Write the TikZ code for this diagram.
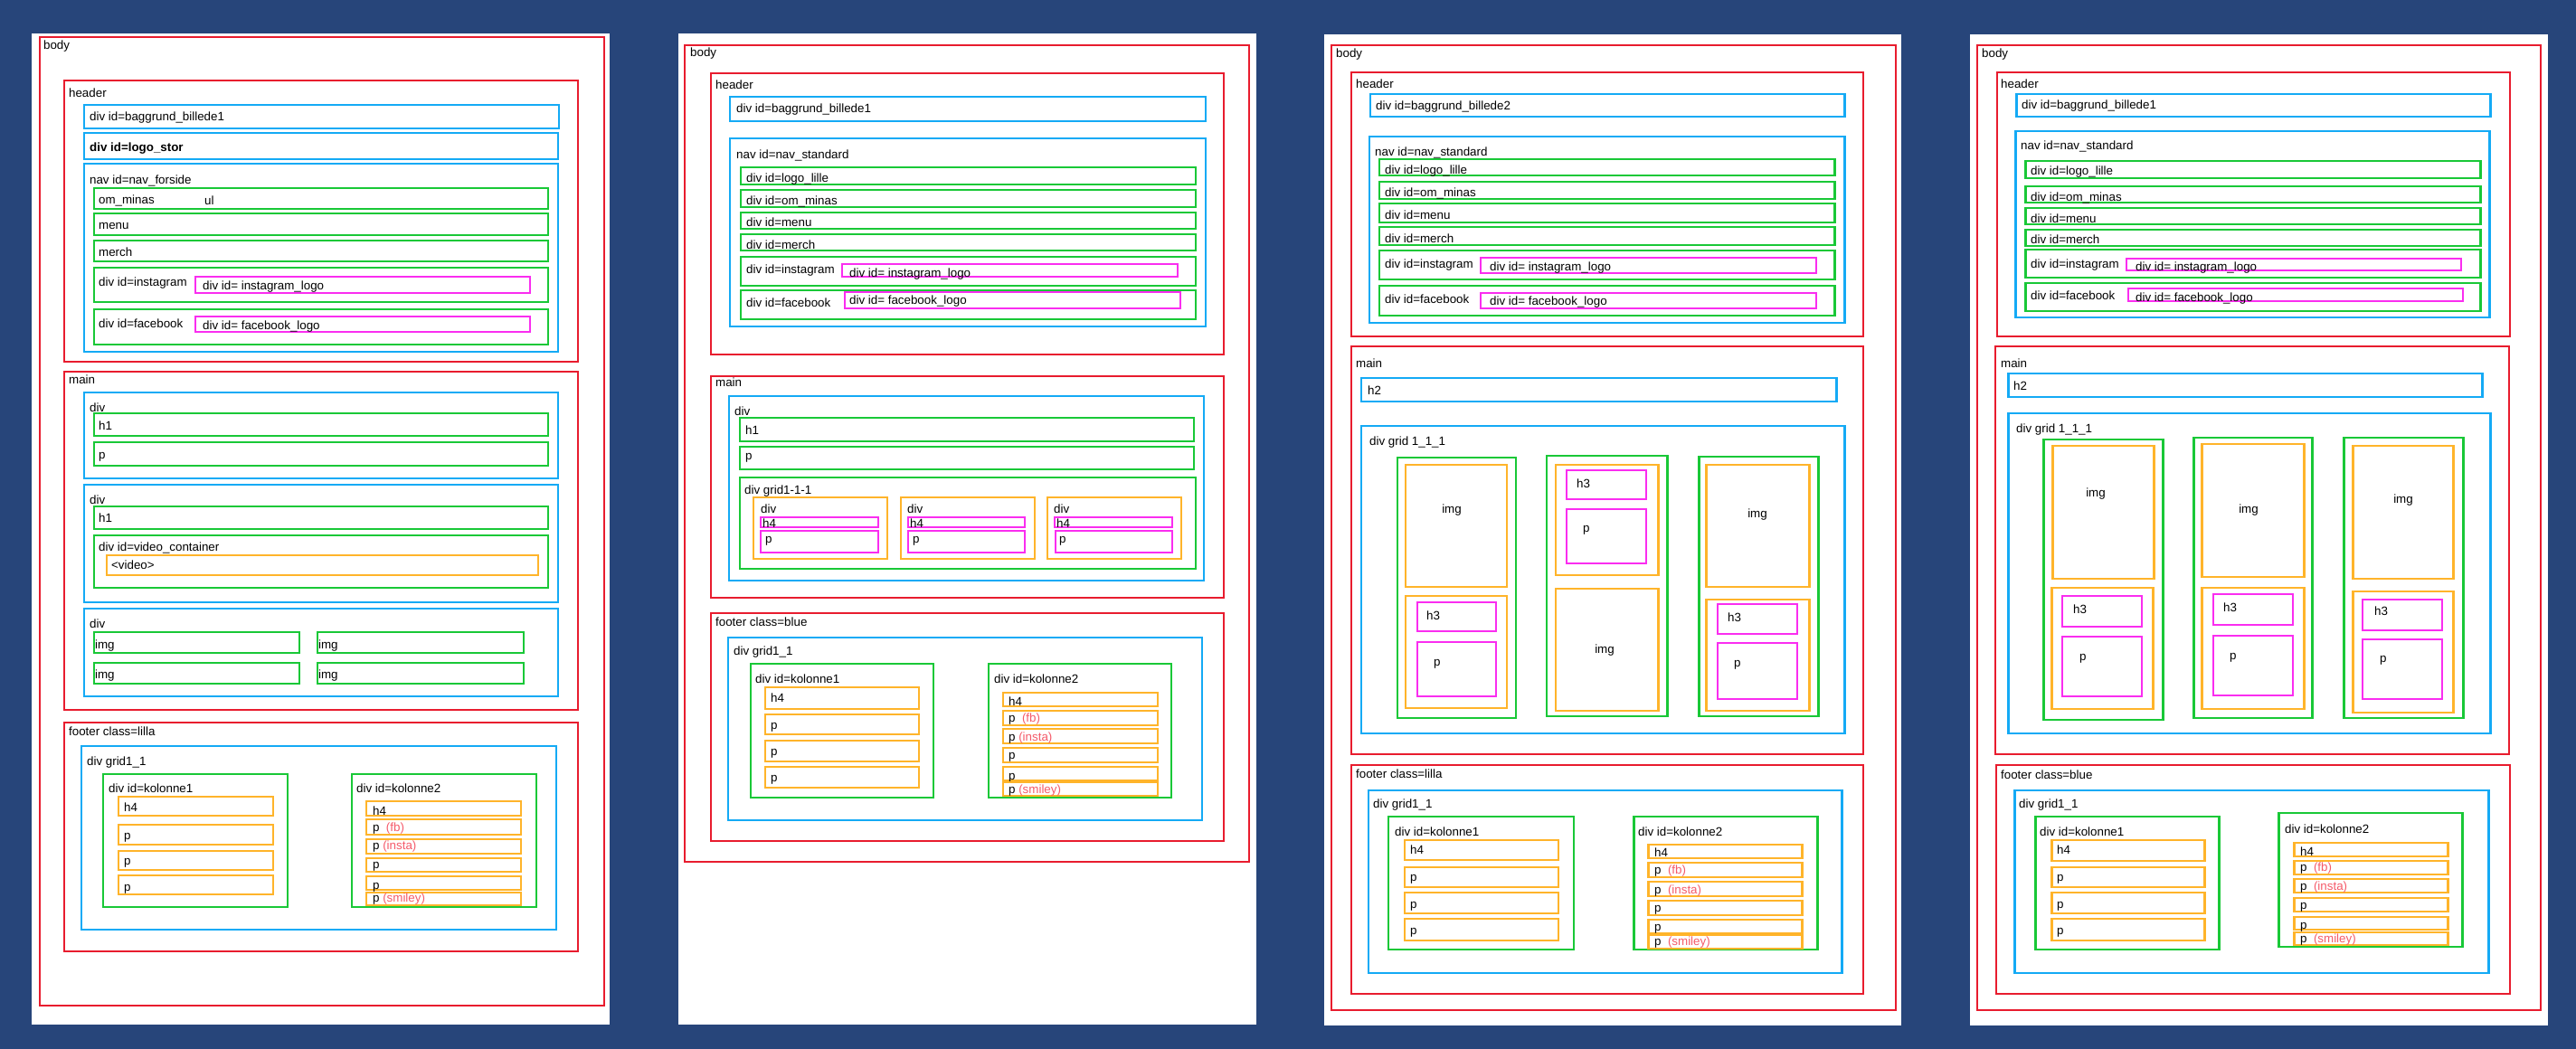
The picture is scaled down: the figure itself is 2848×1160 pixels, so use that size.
\documentclass[tikz,border=0pt]{standalone}
\usepackage{fontspec}
\setmainfont{Liberation Sans}
\definecolor{bgc}{RGB}{39,69,122}
\definecolor{cred}{RGB}{232,28,46}
\definecolor{cblue}{RGB}{20,170,245}
\definecolor{cgreen}{RGB}{25,200,55}
\definecolor{corange}{RGB}{255,180,42}
\definecolor{cpink}{RGB}{250,45,240}
\definecolor{csalmon}{RGB}{245,90,105}
\newcounter{lblno}
\newcommand\B[5]{\draw[#1] (#2,#3) rectangle (#4,#5);}
\newcommand\T[3]{\stepcounter{lblno}\node[lbl] (t\arabic{lblno}) at (#1,#2+5) {#3};}
\newcommand\Cc[3]{\stepcounter{lblno}\node[clbl] (t\arabic{lblno}) at (#1,#2+5) {#3};}
\newcommand\rt[1]{\textcolor{csalmon}{#1}}
\tikzset{
  rbox/.style={draw=cred, line width=3.6pt},
  bbox/.style={draw=cblue, line width=4.2pt},
  gbox/.style={draw=cgreen, line width=4.2pt},
  obox/.style={draw=corange, line width=4.2pt},
  pbox/.style={draw=cpink, line width=2.8pt},
  pboxt/.style={draw=cpink, line width=4pt},
  lbl/.style={anchor=base west, inner sep=0pt, font=\fontsize{19}{23}\selectfont},
  clbl/.style={anchor=base, inner sep=0pt, font=\fontsize{19}{23}\selectfont},
}
\begin{document}
\begin{tikzpicture}[x=0.05cm, y=-0.05cm]
\useasboundingbox (0,0) rectangle (2848,1160);
\fill[bgc] (0,0) rectangle (2848,1160);

% ================= PANEL 1 =================
\fill[white] (35,37) rectangle (674,1133);
\B{rbox}{44}{41}{668}{1112} \T{48}{50}{body}
\B{rbox}{71}{89}{639}{400} \T{76}{103}{header}
\B{bbox}{93}{116}{618}{142} \T{99}{128}{div id=baggrund\_billede1}
\B{bbox}{93}{147}{617}{176} \T{99}{162}{\textbf{div id=logo\_stor}}
\B{bbox}{93}{181}{617}{389} \T{99}{198}{nav id=nav\_forside}
\B{gbox}{104}{208}{606}{231} \T{109}{220}{om\_minas} \T{226}{221}{ul}
\B{gbox}{104}{236}{606}{260} \T{109}{248}{menu}
\B{gbox}{104}{266}{606}{289} \T{109}{278}{merch}
\B{gbox}{104}{296}{606}{334} \T{109}{311}{div id=instagram}
\B{pbox}{216}{306}{586}{324} \T{224}{315}{div id= instagram\_logo}
\B{gbox}{104}{342}{606}{381} \T{109}{357}{div id=facebook}
\B{pbox}{216}{350}{586}{367} \T{224}{359}{div id= facebook\_logo}

\B{rbox}{71}{411}{639}{785} \T{76}{419}{main}
\B{bbox}{93}{434}{617}{529} \T{99}{450}{div}
\B{gbox}{104}{457}{606}{482} \T{109}{470}{h1}
\B{gbox}{104}{489}{606}{515} \T{109}{502}{p}
\B{bbox}{93}{536}{617}{666} \T{99}{552}{div}
\B{gbox}{104}{560}{606}{585} \T{109}{572}{h1}
\B{gbox}{104}{592}{606}{650} \T{109}{604}{div id=video\_container}
\B{obox}{118}{614}{595}{636} \T{123}{624}{<video>}
\B{bbox}{93}{673}{617}{770} \T{99}{689}{div}
\B{gbox}{104}{699}{331}{722} \T{105}{712}{img}
\B{gbox}{351}{699}{579}{722} \T{352}{712}{img}
\B{gbox}{104}{733}{331}{756} \T{105}{745}{img}
\B{gbox}{351}{733}{579}{756} \T{352}{745}{img}

\B{rbox}{71}{799}{639}{1052} \T{76}{808}{footer class=lilla}
\B{bbox}{90}{825}{615}{1028} \T{96}{841}{div grid1\_1}
\B{gbox}{114}{856}{318}{1003} \T{120}{871}{div id=kolonne1}
\B{obox}{131}{881}{302}{902} \T{137}{892}{h4}
\B{obox}{131}{912}{302}{934} \T{137}{923}{p}
\B{obox}{131}{941}{302}{962} \T{137}{951}{p}
\B{obox}{131}{968}{302}{989} \T{137}{980}{p}
\B{gbox}{389}{856}{593}{1003} \T{394}{871}{div id=kolonne2}
\B{obox}{405}{886}{576}{902} \T{412}{896}{h4}
\B{obox}{405}{906}{576}{923} \T{412}{914}{p \ \rt{(fb)}}
\B{obox}{405}{928}{576}{944} \T{412}{934}{p \rt{(insta)}}
\B{obox}{405}{949}{576}{964} \T{412}{955}{p}
\B{obox}{405}{969}{576}{984} \T{412}{978}{p}
\B{obox}{405}{987}{576}{1001} \T{412}{992}{p \rt{(smiley)}}

% ================= PANEL 2 =================
\fill[white] (750,37) rectangle (1389,1133);
\B{rbox}{757}{50}{1381}{953} \T{763}{58}{body}
\B{rbox}{786}{81}{1353}{392} \T{791}{94}{header}
\B{bbox}{807}{107}{1333}{134} \T{814}{120}{div id=baggrund\_billede1}
\B{bbox}{807}{153}{1333}{361} \T{814}{171}{nav id=nav\_standard}
\B{gbox}{819}{185}{1322}{204} \T{825}{196}{div id=logo\_lille}
\B{gbox}{819}{210}{1322}{229} \T{825}{221}{div id=om\_minas}
\B{gbox}{819}{235}{1322}{253} \T{825}{245}{div id=menu}
\B{gbox}{819}{259}{1322}{277} \T{825}{270}{div id=merch}
\B{gbox}{819}{284}{1322}{316} \T{825}{297}{div id=instagram}
\B{pbox}{931}{292}{1302}{306} \T{939}{301}{div id= instagram\_logo}
\B{gbox}{819}{321}{1322}{353} \T{825}{334}{div id=facebook}
\B{pbox}{934}{323}{1305}{341} \T{939}{331}{div id= facebook\_logo}

\B{rbox}{786}{416}{1353}{661} \T{791}{422}{main}
\B{bbox}{806}{438}{1331}{642} \T{812}{454}{div}
\B{gbox}{818}{462}{1320}{488} \T{824}{475}{h1}
\B{gbox}{818}{494}{1320}{519} \T{824}{503}{p}
\B{gbox}{818}{528}{1322}{629} \T{823}{541}{div grid1-1-1}
\B{obox}{833}{550}{981}{618} \T{841}{562}{div}
\B{pbox}{841}{572}{971}{583} \T{843}{578}{h4}
\B{pbox}{841}{587}{971}{611} \T{846}{595}{p}
\B{obox}{996}{550}{1144}{618} \T{1003}{562}{div}
\B{pbox}{1004}{572}{1133}{583} \T{1006}{578}{h4}
\B{pbox}{1004}{587}{1133}{611} \T{1009}{595}{p}
\B{obox}{1158}{550}{1306}{618} \T{1165}{562}{div}
\B{pbox}{1166}{572}{1296}{583} \T{1168}{578}{h4}
\B{pbox}{1167}{587}{1296}{611} \T{1171}{595}{p}

\B{rbox}{786}{678}{1353}{930} \T{791}{687}{footer class=blue}
\B{bbox}{805}{705}{1329}{907} \T{811}{719}{div grid1\_1}
\B{gbox}{830}{734}{1032}{882} \T{835}{750}{div id=kolonne1}
\B{obox}{846}{760}{1016}{784} \T{852}{771}{h4}
\B{obox}{846}{790}{1016}{812} \T{852}{801}{p}
\B{obox}{846}{819}{1016}{842} \T{852}{830}{p}
\B{obox}{846}{848}{1016}{871} \T{852}{859}{p}
\B{gbox}{1093}{734}{1295}{882} \T{1099}{750}{div id=kolonne2}
\B{obox}{1109}{766}{1280}{781} \T{1115}{775}{h4}
\B{obox}{1109}{786}{1280}{802} \T{1115}{793}{p \ \rt{(fb)}}
\B{obox}{1109}{806}{1280}{822} \T{1115}{814}{p \rt{(insta)}}
\B{obox}{1109}{827}{1280}{843} \T{1115}{834}{p}
\B{obox}{1109}{848}{1280}{863} \T{1115}{857}{p}
\B{obox}{1109}{865}{1280}{880} \T{1115}{872}{p \rt{(smiley)}}

% ================= PANEL 3 =================
\fill[white] (1464,38) rectangle (2102,1134);
\B{rbox}{1472}{50}{2096}{1117} \T{1477}{59}{body}
\B{rbox}{1494}{80}{2060}{372} \T{1499}{93}{header}
\B{bbox}{1515}{104}{2039}{129} \T{1521}{117}{div id=baggrund\_billede2}
\B{bbox}{1514}{151}{2039}{357} \T{1520}{167}{nav id=nav\_standard}
\B{gbox}{1525}{176}{2028}{194} \T{1531}{187}{div id=logo\_lille}
\B{gbox}{1525}{201}{2028}{220} \T{1531}{212}{div id=om\_minas}
\B{gbox}{1525}{225}{2028}{246} \T{1531}{237}{div id=menu}
\B{gbox}{1525}{251}{2028}{271} \T{1531}{263}{div id=merch}
\B{gbox}{1525}{277}{2028}{309} \T{1531}{291}{div id=instagram}
\B{pbox}{1637}{285}{2008}{302} \T{1647}{294}{div id= instagram\_logo}
\B{gbox}{1525}{316}{2028}{349} \T{1531}{330}{div id=facebook}
\B{pbox}{1637}{324}{2008}{341} \T{1647}{332}{div id= facebook\_logo}

\B{rbox}{1494}{383}{2060}{834} \T{1499}{401}{main}
\B{bbox}{1505}{418}{2030}{444} \T{1512}{431}{h2}
\B{bbox}{1505}{471}{2039}{811} \T{1514}{487}{div grid 1\_1\_1}
\B{gbox}{1545}{506}{1676}{794}
\B{obox}{1554}{514}{1666}{649} \Cc{1605}{562}{img}
\B{obox}{1554}{659}{1666}{783}
\B{pboxt}{1567}{666}{1654}{698} \T{1577}{680}{h3}
\B{pboxt}{1567}{710}{1654}{770} \T{1585}{731}{p}
\B{gbox}{1710}{504}{1843}{792}
\B{obox}{1720}{514}{1833}{636}
\B{pboxt}{1732}{520}{1820}{552} \T{1743}{534}{h3}
\B{pboxt}{1732}{563}{1820}{623} \T{1750}{583}{p}
\B{obox}{1720}{651}{1833}{786} \Cc{1774}{717}{img}
\B{gbox}{1878}{505}{2010}{792}
\B{obox}{1886}{514}{2000}{649} \Cc{1943}{567}{img}
\B{obox}{1886}{663}{2000}{786}
\B{pboxt}{1899}{668}{1987}{701} \T{1910}{682}{h3}
\B{pboxt}{1899}{711}{1987}{773} \T{1917}{732}{p}

\B{rbox}{1494}{846}{2060}{1099} \T{1499}{855}{footer class=lilla}
\B{bbox}{1513}{874}{2036}{1076} \T{1518}{888}{div grid1\_1}
\B{gbox}{1535}{903}{1740}{1050} \T{1542}{919}{div id=kolonne1}
\B{obox}{1553}{929}{1723}{951} \T{1559}{939}{h4}
\B{obox}{1553}{959}{1723}{981} \T{1559}{969}{p}
\B{obox}{1553}{987}{1723}{1010} \T{1559}{999}{p}
\B{obox}{1553}{1016}{1723}{1040} \T{1559}{1028}{p}
\B{gbox}{1806}{903}{2009}{1050} \T{1811}{919}{div id=kolonne2}
\B{obox}{1822}{934}{1992}{949} \T{1829}{942}{h4}
\B{obox}{1822}{954}{1992}{970} \T{1829}{961}{p \ \rt{(fb)}}
\B{obox}{1822}{975}{1992}{991} \T{1829}{983}{p \ \rt{(insta)}}
\B{obox}{1822}{996}{1992}{1012} \T{1829}{1003}{p}
\B{obox}{1822}{1017}{1992}{1032} \T{1829}{1024}{p}
\B{obox}{1822}{1034}{1992}{1049} \T{1829}{1040}{p \ \rt{(smiley)}}

% ================= PANEL 4 =================
\fill[white] (2178,38) rectangle (2817,1134);
\B{rbox}{2186}{50}{2809}{1117} \T{2191}{59}{body}
\B{rbox}{2208}{80}{2775}{372} \T{2212}{93}{header}
\B{bbox}{2229}{104}{2753}{129} \T{2235}{116}{div id=baggrund\_billede1}
\B{bbox}{2228}{145}{2752}{351} \T{2234}{161}{nav id=nav\_standard}
\B{gbox}{2239}{178}{2742}{197} \T{2245}{188}{div id=logo\_lille}
\B{gbox}{2239}{206}{2742}{224} \T{2245}{217}{div id=om\_minas}
\B{gbox}{2239}{230}{2742}{248} \T{2245}{241}{div id=menu}
\B{gbox}{2239}{254}{2742}{272} \T{2245}{264}{div id=merch}
\B{gbox}{2239}{276}{2742}{307} \T{2245}{291}{div id=instagram}
\B{pbox}{2351}{286}{2721}{299} \T{2361}{294}{div id= instagram\_logo}
\B{gbox}{2239}{313}{2742}{344} \T{2245}{326}{div id=facebook}
\B{pbox}{2353}{319}{2723}{333} \T{2361}{328}{div id= facebook\_logo}

\B{rbox}{2206}{383}{2774}{834} \T{2212}{401}{main}
\B{bbox}{2220}{413}{2744}{439} \T{2226}{426}{h2}
\B{bbox}{2220}{457}{2753}{811} \T{2229}{473}{div grid 1\_1\_1}
\B{gbox}{2259}{486}{2391}{796}
\B{obox}{2269}{493}{2381}{640} \Cc{2317}{544}{img}
\B{obox}{2268}{650}{2380}{784}
\B{pboxt}{2280}{659}{2368}{693} \T{2292}{673}{h3}
\B{pboxt}{2280}{704}{2368}{770} \T{2299}{725}{p}
\B{gbox}{2425}{484}{2556}{794}
\B{obox}{2434}{491}{2547}{638} \Cc{2486}{562}{img}
\B{obox}{2434}{650}{2547}{784}
\B{pboxt}{2447}{657}{2535}{691} \T{2458}{671}{h3}
\B{pboxt}{2447}{703}{2535}{769} \T{2465}{724}{p}
\B{gbox}{2591}{484}{2723}{794}
\B{obox}{2601}{493}{2712}{640} \Cc{2657}{551}{img}
\B{obox}{2601}{654}{2712}{788}
\B{pboxt}{2612}{663}{2700}{697} \T{2625}{675}{h3}
\B{pboxt}{2612}{707}{2700}{773} \T{2631}{727}{p}

\B{rbox}{2207}{846}{2775}{1099} \T{2212}{856}{footer class=blue}
\B{bbox}{2227}{874}{2751}{1076} \T{2232}{888}{div grid1\_1}
\B{gbox}{2250}{903}{2453}{1050} \T{2255}{919}{div id=kolonne1}
\B{obox}{2268}{929}{2437}{952} \T{2274}{939}{h4}
\B{obox}{2268}{959}{2437}{981} \T{2274}{969}{p}
\B{obox}{2268}{987}{2437}{1010} \T{2274}{999}{p}
\B{obox}{2268}{1016}{2437}{1040} \T{2274}{1028}{p}
\B{gbox}{2519}{899}{2722}{1047} \T{2526}{916}{div id=kolonne2}
\B{obox}{2536}{932}{2706}{947} \T{2543}{941}{h4}
\B{obox}{2536}{952}{2706}{967} \T{2543}{958}{p \ \rt{(fb)}}
\B{obox}{2536}{972}{2706}{987} \T{2543}{979}{p \ \rt{(insta)}}
\B{obox}{2536}{993}{2706}{1008} \T{2543}{1000}{p}
\B{obox}{2536}{1014}{2706}{1028} \T{2543}{1022}{p}
\B{obox}{2536}{1031}{2706}{1045} \T{2543}{1037}{p \ \rt{(smiley)}}
\end{tikzpicture}
\end{document}
